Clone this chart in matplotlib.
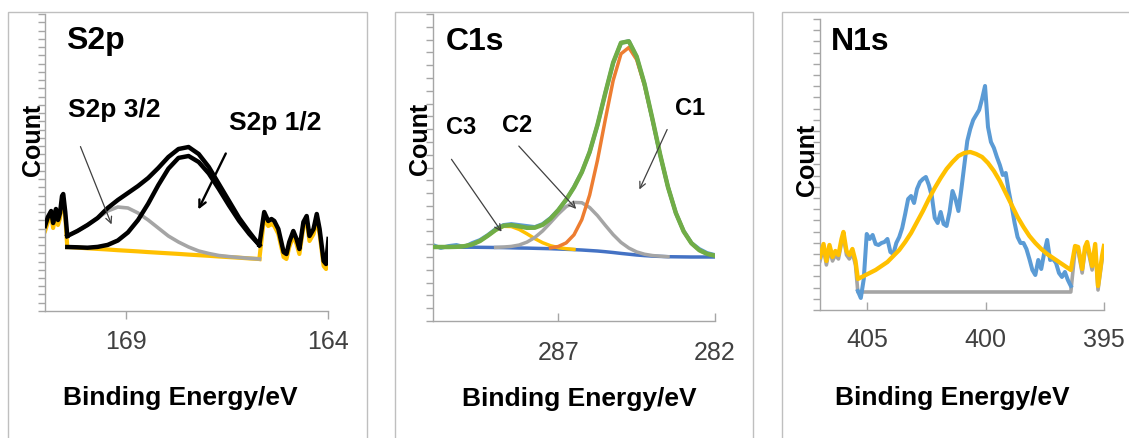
import matplotlib.pyplot as plt
import numpy as np
from matplotlib.patches import Rectangle

plt.rcParams['font.family'] = ['Liberation Sans', 'DejaVu Sans']

# ---------------- S2p ----------------
# raw counts left of the fit window (raw data drawn black, background yellow)
s2p_left_e = [171.0, 170.93, 170.85, 170.80, 170.73, 170.68, 170.63, 170.58, 170.55, 170.50, 170.45]
s2p_left_raw = [85, 94, 100, 88, 102, 91, 98, 115, 117, 99, 75]
s2p_left_bg = [80, 89, 95, 83, 97, 86, 93, 110, 112, 94, 64]

# fit window, 0.25 eV step
s2p_fit_e = np.linspace(170.45, 165.70, 20)
s2p_bg = [64.0, 63.4, 62.7, 62.1, 61.5, 60.8, 60.2, 59.6, 58.9, 58.3,
          57.7, 57.1, 56.4, 55.8, 55.2, 54.5, 53.9, 53.3, 52.6, 52.0]
s2p_32 = [75, 80, 86, 93, 100, 104, 103, 98, 91, 83,
          75, 69, 64, 60, 57.5, 55.5, 54.4, 53.5, 52.7, 52]
s2p_12 = [64.0, 63.7, 63.3, 64.1, 66.1, 70.5, 78.6, 91.0, 107.3, 125.8,
          142.3, 153.1, 155.0, 149.0, 137.5, 121.9, 105.5, 90.1, 77.1, 66]
s2p_env = [75, 80, 86, 93, 103, 111, 118, 125, 133, 143,
           154, 162, 164, 157, 144, 127, 110, 93, 79, 66]

s2p_right_e = [165.70, 165.58, 165.48, 165.40, 165.33, 165.23, 165.10, 165.03, 164.96, 164.86, 164.78,
               164.71, 164.61, 164.53, 164.46, 164.36, 164.28, 164.21, 164.11, 164.05, 163.99]
s2p_right_raw = [66, 99, 90, 92, 90, 82, 59, 57, 69, 80, 72, 62, 89, 95, 75, 82, 97, 82, 50, 47, 72]
s2p_right_bg = [52, 94, 85, 87, 85, 77, 54, 52, 64, 75, 67, 57, 84, 90, 70, 77, 92, 77, 45, 42, 67]

# ---------------- C1s ----------------
c1s_e = np.linspace(291.0, 282.0, 37)
c1s_bg = [74.0, 74.0, 73.9, 73.9, 73.8, 73.8, 73.7, 73.6, 73.5, 73.4, 73.2, 73.0, 72.9,
          72.7, 72.5, 72.3, 72.0, 71.7, 71.4, 71.0, 70.5, 70.0, 69.3, 68.5, 67.6,
          66.8, 66.0, 65.4, 64.9, 64.6, 64.3, 64.2, 64.1, 64.0, 64.0, 64.0, 64.0]
c1s_env = [74.0, 74.0, 74.0, 74.2, 74.8, 76.6, 80.0, 85.3, 91.1, 95.3, 95.9, 94.6, 93.2,
           93.3, 96.2, 102.3, 110.9, 121.4, 133.6, 148.8, 169.0, 196.2, 228.0, 258.4, 278.2,
           279.7, 264.5, 237.1, 202.5, 166.4, 133.9, 108.1, 89.6, 77.7, 70.8, 67.1, 65.3]
c1s_raw = [76, 73, 75, 76, 74, 78, 81, 86, 92, 96, 97, 96, 95,
           94, 97, 103, 111, 121, 134, 149, 169, 196, 228, 258, 278,
           280, 264, 237, 202, 166, 134, 108, 90, 78, 72, 68, 66]

c3_e = np.linspace(290.5, 286.5, 17)
c3 = [74.0, 74.2, 74.8, 76.6, 80.0, 85.3, 91.0, 94.7, 94.5, 91.6, 87.2, 82.4, 78.3, 75.3, 73.4, 72.3, 71.6]
c2_e = np.linspace(289.0, 283.5, 23)
c2 = [73.6, 74.0, 74.6, 76.0, 78.9, 83.5, 90.1, 98.4, 107.0, 114.4, 118.6, 118.3,
      113.5, 105.4, 95.7, 86.4, 78.6, 73.0, 69.1, 66.8, 65.5, 64.8, 64.3]
c1_e = np.linspace(287.25, 282.0, 22)
c1 = [73.2, 74.5, 78.1, 86.2, 101.4, 126.0, 160.8, 201.6, 240.5, 267.2, 273.5,
      261.4, 235.7, 201.9, 166.2, 133.9, 108.1, 89.6, 77.7, 70.8, 67.1, 65.3]

# ---------------- N1s ----------------
n1s_left_e = [407.0, 406.85, 406.73, 406.60, 406.47, 406.35, 406.22, 406.09, 406.01, 405.88, 405.76, 405.63, 405.50]
n1s_left_fit = [53, 66, 49, 65, 53, 59, 55, 71, 78, 59, 55, 61, 49]
n1s_left_base = [49, 62, 45, 61, 49, 55, 51, 67, 74, 55, 51, 57, 45]

n1s_raw_e = np.linspace(405.4, 396.4, 73)
n1s_raw = [19, 12, 31, 76, 71, 75, 66, 65, 67, 68, 71, 58, 56, 67, 73, 82, 96, 111, 114, 107,
           121, 128, 131, 133, 125, 114, 92, 87, 98, 86, 84, 98, 119, 111, 99, 121, 145, 169,
           181, 190, 195, 200, 211, 224, 183, 168, 162, 153, 145, 135, 137, 119, 104, 87, 73,
           67, 67, 61, 51, 40, 35, 50, 41, 57, 70, 50, 51, 47, 37, 33, 38, 30, 24]

n1s_fit_e = np.linspace(405.4, 396.4, 37)
n1s_fit = [31, 34, 37, 40, 44, 48, 54, 60, 68, 77, 88, 99, 111, 122, 132, 141, 148, 154, 157,
           158, 156, 153, 147, 139, 129, 117, 105, 93, 83, 74, 67, 61, 56, 52, 48, 44, 40]
n1s_base_e = [405.4, 396.4]
n1s_base = [18, 18]

n1s_right_e = [396.22, 396.09, 395.92, 395.80, 395.71, 395.50, 395.37, 395.25, 395.08, 395.0]
n1s_right_fit = [64, 63, 41, 63, 68, 44, 66, 24, 54, 64]
n1s_right_base = [60, 59, 37, 59, 64, 40, 62, 20, 50, 60]

BLACK = '#000000'
GREY = '#A5A5A5'
YELLOW = '#FFC000'
ORANGE = '#ED7D31'
GREEN = '#70AD47'
DBLUE = '#4472C4'
LBLUE = '#5B9BD5'
SPINE = '#A6A6A6'

fig = plt.figure(figsize=(11.29, 4.39), dpi=100)

# light frames around each panel
for x0, w in [(0.0071, 0.3177), (0.3499, 0.3171), (0.6924, 0.32)]:
    fig.add_artist(Rectangle((x0, -0.05), w, 0.971 + 0.05, transform=fig.transFigure,
                             fill=False, ec='#BFBFBF', lw=1.0))

ax1 = fig.add_axes([0.0399, 0.2893, 0.2507, 0.6765])
ax2 = fig.add_axes([0.3835, 0.2665, 0.2498, 0.6993])
ax3 = fig.add_axes([0.7263, 0.2916, 0.2515, 0.6629])


def style_axes(ax, xlim, ytop, nticks, xticks, xdir, xpad, title, tx, ty, ylab, xlab):
    ax.set_xlim(*xlim)
    ax.set_ylim(0, ytop)
    ax.set_xticks(xticks)
    ax.set_xticklabels([str(t) for t in xticks])
    ax.set_yticks(np.linspace(0, ytop, nticks + 1))
    ax.set_yticklabels([])
    for s in ['top', 'right']:
        ax.spines[s].set_visible(False)
    for s in ['left', 'bottom']:
        ax.spines[s].set_color(SPINE)
        ax.spines[s].set_linewidth(1.0)
    ax.tick_params(axis='x', direction=xdir, length=6, width=1, color=SPINE,
                   pad=xpad, labelsize=18, labelcolor='#404040')
    ax.tick_params(axis='y', direction='out', length=5, width=1, color=SPINE)
    ax.text(tx, ty, title, transform=ax.transAxes, fontsize=23, fontweight='bold',
            ha='left', va='center')
    ax.set_ylabel('Count', fontsize=18, fontweight='bold')
    ax.yaxis.set_label_coords(*ylab)
    ax.yaxis.label.set_va('center')
    ax.set_xlabel('Binding Energy/eV', fontsize=19, fontweight='bold')
    ax.xaxis.set_label_coords(*xlab)
    ax.xaxis.label.set_va('center')


# ---- S2p panel ----
ax1.plot(s2p_left_e, s2p_left_bg, color=YELLOW, lw=3.0, zorder=1)
ax1.plot(s2p_fit_e, s2p_bg, color=YELLOW, lw=3.0, zorder=1)
ax1.plot(s2p_right_e, s2p_right_bg, color=YELLOW, lw=3.0, zorder=1)
ax1.plot(s2p_fit_e, s2p_32, color=GREY, lw=2.6, zorder=2)
ax1.plot(s2p_fit_e, s2p_12, color=BLACK, lw=3.2, zorder=3)
ax1.plot(s2p_left_e, s2p_left_raw, color=BLACK, lw=3.2, zorder=4)
ax1.plot(s2p_fit_e, s2p_env, color=BLACK, lw=3.2, zorder=4)
ax1.plot(s2p_right_e, s2p_right_raw, color=BLACK, lw=3.2, zorder=4)

ax1.text(170.43, 202, 'S2p 3/2', fontsize=19, fontweight='bold', ha='left', va='center')
ax1.text(166.45, 189, 'S2p 1/2', fontsize=19, fontweight='bold', ha='left', va='center')
ax1.annotate('', xy=(169.33, 84), xytext=(170.15, 167),
             arrowprops=dict(arrowstyle='->,head_length=0.45,head_width=0.22',
                             color='#404040', lw=0.9), zorder=5)
ax1.annotate('', xy=(167.24, 99), xytext=(166.50, 160),
             arrowprops=dict(arrowstyle='->,head_length=0.5,head_width=0.25',
                             color=BLACK, lw=1.7), zorder=5)

style_axes(ax1, (171, 164), 297, 36, [169, 164], 'out', 7, 'S2p', 0.074, 0.912,
           (-0.042, 0.58), (0.477, -0.29))

# ---- C1s panel ----
ax2.plot(c1s_e, c1s_raw, color=LBLUE, lw=2.8, zorder=1)
ax2.plot(c1s_e, c1s_bg, color=DBLUE, lw=2.5, zorder=2)
ax2.plot(c3_e, c3, color=YELLOW, lw=2.5, zorder=3)
ax2.plot(c2_e, c2, color=GREY, lw=2.5, zorder=3)
ax2.plot(c1_e, c1, color=ORANGE, lw=2.5, zorder=4)
ax2.plot(c1s_e, c1s_env, color=GREEN, lw=3.2, zorder=5)

ax2.text(282.79, 214, 'C1', fontsize=17, fontweight='bold', ha='center', va='center')
ax2.text(288.32, 197, 'C2', fontsize=17, fontweight='bold', ha='center', va='center')
ax2.text(290.10, 195, 'C3', fontsize=17, fontweight='bold', ha='center', va='center')
for tip, tail in [((284.45, 129), (283.49, 194)),
                  ((286.37, 110), (288.32, 177)),
                  ((288.76, 87), (290.46, 164))]:
    ax2.annotate('', xy=tip, xytext=tail,
                 arrowprops=dict(arrowstyle='->,head_length=0.45,head_width=0.22',
                                 color='#404040', lw=0.9), zorder=6)

style_axes(ax2, (291, 282), 307, 24, [287, 282], 'in', 14, 'C1s', 0.046, 0.912,
           (-0.046, 0.596), (0.52, -0.25))

# ---- N1s panel ----
ax3.plot(n1s_left_e + list(n1s_base_e) + n1s_right_e,
         n1s_left_base + n1s_base + n1s_right_base, color=GREY, lw=2.6, zorder=1)
ax3.plot(n1s_raw_e, n1s_raw, color=LBLUE, lw=2.9, zorder=2)
ax3.plot(n1s_left_e + list(n1s_fit_e) + n1s_right_e,
         n1s_left_fit + n1s_fit + n1s_right_fit, color=YELLOW, lw=3.1, zorder=3)

style_axes(ax3, (407, 395), 291, 26, [405, 400, 395], 'in', 12, 'N1s', 0.040, 0.924,
           (-0.046, 0.52), (0.466, -0.30))

fig.savefig('out.png', dpi=100)
